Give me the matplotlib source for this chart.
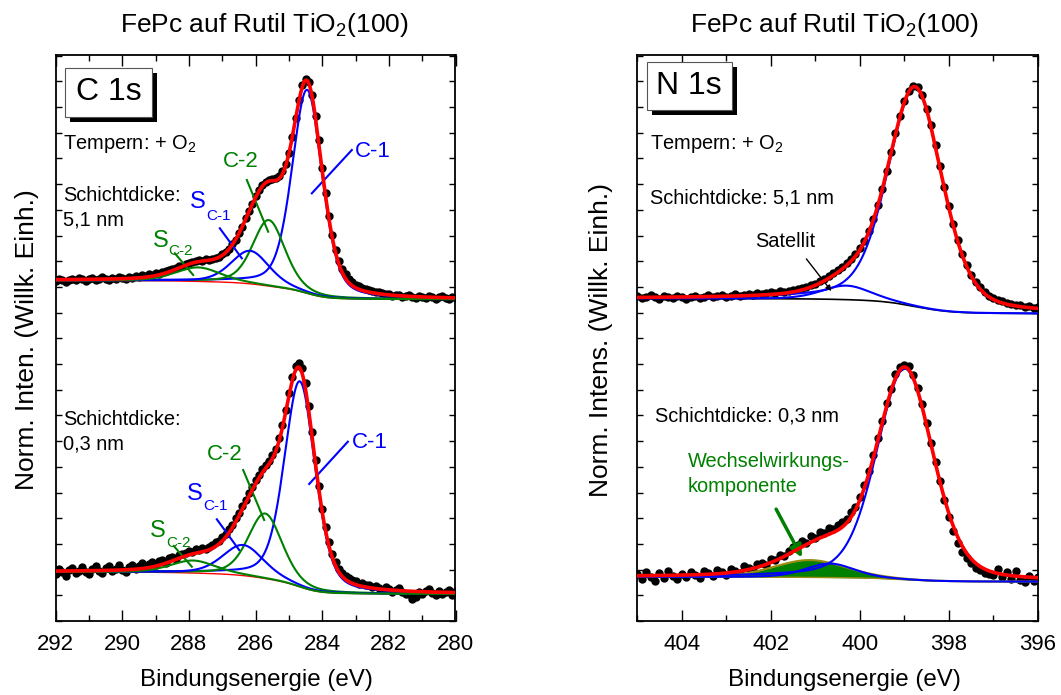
import numpy as np
import matplotlib
matplotlib.use('Agg')
import matplotlib.pyplot as plt
from matplotlib.patches import Rectangle

plt.rcParams['font.family'] = ['Liberation Sans', 'DejaVu Sans']
plt.rcParams['mathtext.default'] = 'regular'

# measured spectra, 0.1 eV steps (C 1s: 292 -> 280 eV, N 1s: 405 -> 396 eV)
e_c1s = np.linspace(292, 280, 121)
e_n1s = np.linspace(405, 396, 91)

c1s_51 = [340, 342, 341, 339, 341, 342, 341, 343, 342, 340, 342, 343, 341, 342, 344, 342,
          341, 343, 342, 344, 343, 342, 344, 343, 345, 344, 346, 345, 347, 346, 348, 347,
          349, 350, 351, 352, 353, 355, 355, 357, 358, 359, 360, 361, 360, 362, 361, 362,
          363, 364, 367, 369, 372, 377, 381, 388, 394, 403, 410, 417, 425, 431, 436, 439,
          441, 442, 443, 445, 450, 457, 468, 484, 503, 521, 536, 542, 539, 526, 505, 481,
          453, 428, 405, 386, 371, 360, 352, 347, 342, 339, 336, 335, 333, 332, 331, 330,
          329, 329, 328, 327, 327, 325, 326, 326, 324, 325, 326, 324, 323, 325, 324, 323,
          325, 324, 322, 324, 325, 323, 322, 324, 323]
c1s_03 = [47, 52, 49, 45, 51, 53, 48, 50, 54, 49, 47, 52, 55, 50, 48, 53,
          55, 50, 52, 56, 51, 49, 54, 56, 52, 55, 58, 54, 57, 59, 56, 60,
          61, 58, 63, 64, 62, 66, 67, 68, 70, 69, 72, 71, 73, 72, 74, 76,
          79, 80, 84, 87, 92, 96, 103, 108, 115, 121, 128, 134, 141, 146, 152, 156,
          160, 166, 172, 183, 196, 211, 228, 244, 255, 258, 253, 238, 215, 189, 161, 135,
          112, 94, 79, 67, 59, 52, 48, 45, 43, 41, 40, 37, 38, 36, 36, 34,
          35, 33, 31, 34, 32, 29, 31, 33, 29, 27, 27, 22, 24, 29, 27, 30,
          32, 28, 26, 30, 27, 29, 31, 26, 30]
n1s_51 = [325, 323, 324, 326, 324, 322, 325, 324, 323, 325, 324, 322, 324, 325, 323, 324,
          326, 324, 325, 326, 324, 325, 327, 325, 326, 327, 326, 328, 327, 328, 329, 328,
          330, 329, 330, 331, 332, 333, 334, 336, 337, 340, 342, 345, 348, 351, 354, 358,
          362, 367, 373, 380, 390, 402, 416, 432, 450, 469, 488, 505, 520, 530, 535, 534,
          526, 512, 496, 476, 455, 434, 415, 397, 381, 367, 356, 346, 339, 334, 329, 325,
          323, 321, 320, 318, 317, 316, 316, 314, 315, 313, 314]
n1s_03 = [47, 42, 49, 44, 40, 48, 43, 50, 45, 42, 47, 44, 49, 46, 43, 50,
          48, 45, 51, 49, 46, 52, 50, 48, 55, 53, 51, 57, 58, 56, 62, 61,
          66, 65, 70, 74, 76, 80, 78, 85, 83, 89, 88, 93, 92, 96, 99, 102,
          109, 114, 124, 136, 150, 166, 183, 200, 218, 232, 247, 254, 256, 255, 246, 233,
          217, 198, 178, 159, 140, 121, 104, 90, 78, 69, 63, 58, 53, 51, 48, 47,
          46, 52, 44, 49, 42, 50, 41, 39, 45, 40, 44]

# fit results: Shirley background end points (low BE, high BE) and
# pseudo-Voigt components (center eV, height, fwhm eV, lorentz fraction)
c1s_51_bg = (321.7, 340.5)
c1s_51_c1 = (284.45, 203.5, 1.07, 0.35)
c1s_51_c2 = (285.60, 66.0, 1.14, 0.35)
c1s_51_sc1 = (286.16, 33.0, 1.35, 0.35)
c1s_51_sc2 = (287.72, 14.0, 1.60, 0.35)

c1s_03_bg = (27.0, 49.0)
c1s_03_c1 = (284.67, 205.5, 1.10, 0.35)
c1s_03_c2 = (285.71, 65.0, 1.20, 0.35)
c1s_03_sc1 = (286.37, 30.6, 1.45, 0.35)
c1s_03_sc2 = (287.87, 12.5, 1.60, 0.35)

n1s_51_bg = (307.5, 322.5)
n1s_51_main = (398.76, 219.0, 1.45, 0.35)
n1s_51_sat = (400.30, 14.0, 1.30, 0.30)

n1s_03_bg = (39.3, 44.0)
n1s_03_main = (398.99, 211.0, 1.50, 0.30)
n1s_03_sat = (400.67, 14.0, 1.30, 0.30)
n1s_03_ww = (401.12, 17.3, 1.90, 0.20)

blue, green, red = '#0000ff', '#008000', '#ff0000'


def pvoigt(e, c, h, w, eta):
    t = (e - c) / w
    return h * (eta / (1 + 4 * t * t) + (1 - eta) * np.exp(-4 * np.log(2) * t * t))


def shirley(e, total, lo, hi):
    # e ascending; step grows with the peak area below each energy
    area = np.concatenate([[0], np.cumsum(0.5 * (total[1:] + total[:-1]) * np.diff(e))])
    return lo + (hi - lo) * area / area[-1]


def fit(e, bg, comps):
    parts = [pvoigt(e, *p) for p in comps]
    total = np.sum(parts, axis=0)
    base = shirley(e, total, *bg)
    return base, parts, base + total


W, H = 1061, 695
fig = plt.figure(figsize=(W / 100, H / 100), dpi=100)
ax1 = fig.add_axes([55.5 / W, 1 - 621 / H, 400 / W, 566 / H])
ax2 = fig.add_axes([637.2 / W, 1 - 621 / H, 400.8 / W, 566 / H])

dots = dict(ls='none', marker='o', ms=5, color='black', mec='black', zorder=2)
ax1.plot(e_c1s, c1s_51, **dots)
ax1.plot(e_c1s, c1s_03, **dots)
ax2.plot(e_n1s, n1s_51, **dots)
ax2.plot(e_n1s, n1s_03, **dots)

ec = np.linspace(280, 292, 1201)
en = np.linspace(396, 405, 901)

# C 1s fits
for bg, comps in [(c1s_51_bg, [c1s_51_c1, c1s_51_c2, c1s_51_sc1, c1s_51_sc2]),
                  (c1s_03_bg, [c1s_03_c1, c1s_03_c2, c1s_03_sc1, c1s_03_sc2])]:
    base, parts, env = fit(ec, bg, comps)
    ax1.plot(ec, base, color=red, lw=1, zorder=3)
    for p, c in zip(parts, [blue, green, blue, green]):
        ax1.plot(ec, base + p, color=c, lw=1.5, zorder=3)
    ax1.plot(ec, env, color=red, lw=2.6, zorder=4)

# N 1s fits
base, parts, env = fit(en, n1s_51_bg, [n1s_51_main, n1s_51_sat])
ax2.plot(en, base, color='black', lw=1.2, zorder=3)
for p in parts:
    ax2.plot(en, base + p, color=blue, lw=1.5, zorder=3)
ax2.plot(en, env, color=red, lw=2.6, zorder=4)

base, parts, env = fit(en, n1s_03_bg, [n1s_03_main, n1s_03_sat, n1s_03_ww])
ax2.fill_between(en, base, base + parts[2], color=green, lw=0, zorder=3)
ax2.plot(en, base + parts[2], color='#9a8c10', lw=1.5, zorder=3)
ax2.plot(en, base, color='#9a8c10', lw=1, zorder=3)
for p in parts[:2]:
    ax2.plot(en, base + p, color=blue, lw=1.5, zorder=3)
ax2.plot(en, env, color=red, lw=2.6, zorder=4)

for ax, lim in [(ax1, (292, 280)), (ax2, (405, 396))]:
    ax.set_xlim(*lim)
    ax.set_ylim(0, 566)
    lo, hi = min(lim), max(lim)
    ax.set_xticks(np.arange(lo, hi + 0.1, 2))
    ax.set_xticks(np.arange(lo, hi + 0.1, 1), minor=True)
    ax.set_yticks(np.arange(0, 566, 25.7))
    ax.set_yticklabels([])
    ax.tick_params(which='both', direction='in', top=True, right=True, labelsize=16, pad=9, width=1)
    ax.tick_params(which='major', length=8)
    ax.tick_params(which='minor', length=4)
    ax.tick_params(axis='y', which='both', length=4)
    for s in ax.spines.values():
        s.set_linewidth(1.3)

fig.text(27 / W, 1 - 340 / H, 'Norm. Inten. (Willk. Einh.)', rotation=90, fontsize=19, ha='center', va='center')
fig.text(601 / W, 1 - 340 / H, 'Norm. Intens. (Willk. Einh.)', rotation=90, fontsize=19, ha='center', va='center')
fig.text(256 / W, 1 - 680 / H, 'Bindungsenergie (eV)', fontsize=17.4, ha='center', va='center')
fig.text(844 / W, 1 - 680 / H, 'Bindungsenergie (eV)', fontsize=17.4, ha='center', va='center')
fig.text(264 / W, 1 - 32 / H, 'FePc auf Rutil TiO$_2$(100)', fontsize=19, ha='center', va='baseline')
fig.text(834 / W, 1 - 32 / H, 'FePc auf Rutil TiO$_2$(100)', fontsize=19, ha='center', va='baseline')

# panel labels with drop shadow
for ax, box, txt in [(ax1, (0.02375, 0.891, 0.2167, 0.0855), 'C 1s'),
                     (ax2, (0.0237, 0.9028, 0.212, 0.0853), 'N 1s')]:
    x0, y0, w, h = box
    ax.add_patch(Rectangle((x0 + 0.0125, y0 - 0.0088), w, h, transform=ax.transAxes,
                           facecolor='black', edgecolor='none', zorder=5))
    ax.add_patch(Rectangle((x0, y0), w, h, transform=ax.transAxes,
                           facecolor='white', edgecolor='#555555', lw=0.8, zorder=6))
    ax.text(x0 + w / 2, y0 + h / 2, txt, transform=ax.transAxes, fontsize=23,
            ha='center', va='center', zorder=7)

t = dict(fontsize=14.4, va='baseline')
ax1.text(291.78, 472, 'Tempern: + O$_2$', **t)
ax1.text(291.78, 420, 'Schichtdicke:', **t)
ax1.text(291.78, 395, '5,1 nm', **t)
ax1.text(291.78, 196, 'Schichtdicke:', **t)
ax1.text(291.78, 171, '0,3 nm', **t)
ax2.text(404.71, 471.7, 'Tempern: + O$_2$', **t)
ax2.text(404.71, 417, 'Schichtdicke: 5,1 nm', **t)
ax2.text(404.6, 199.3, 'Schichtdicke: 0,3 nm', **t)
ax2.text(402.36, 374.3, 'Satellit', **t)
ax2.text(403.86, 154.3, 'Wechselwirkungs-', color=green, **t)
ax2.text(403.86, 129.3, 'komponente', color=green, **t)

# C 1s component names with leader lines
labels = [
    (283.02, 464, 'C-1', blue, (284.31, 427.7, 283.11, 471)),
    (286.98, 453.7, 'C-2', green, (286.26, 441, 285.62, 389.3)),
    (283.11, 173, 'C-1', blue, (284.39, 137, 283.23, 179.3)),
    (287.46, 161, 'C-2', green, (286.37, 151, 285.74, 101)),
]
for x, y, s, c, ln in labels:
    ax1.text(x, y, s, color=c, fontsize=16, va='baseline')
    ax1.plot([ln[0], ln[2]], [ln[1], ln[3]], color=c, lw=1.5)
subs = [
    (287.97, 413, 287.49, 401, 'C-1', blue, (287.07, 392.7, 286.41, 362.7)),
    (289.08, 374, 288.63, 366, 'C-2', green, (288.42, 367.7, 287.87, 346)),
    (288.06, 121, 287.57, 111, 'C-1', blue, (287.16, 101.7, 286.49, 71)),
    (289.17, 84, 288.69, 74, 'C-2', green, (288.45, 75, 287.91, 54.3)),
]
for x, y, xs, ys, s, c, ln in subs:
    ax1.text(x, y, 'S', color=c, fontsize=17, va='baseline')
    ax1.text(xs, ys, s, color=c, fontsize=11, va='baseline')
    ax1.plot([ln[0], ln[2]], [ln[1], ln[3]], color=c, lw=1.5)

ax2.annotate('', xy=(400.6, 327.7), xytext=(401.24, 364.3),
             arrowprops=dict(arrowstyle='-|>', color='black', lw=1, mutation_scale=8))
ax2.annotate('', xy=(401.27, 61), xytext=(401.91, 114.3),
             arrowprops=dict(arrowstyle='-|>', color=green, lw=2.5, mutation_scale=18))

fig.savefig('out.png', dpi=100)
